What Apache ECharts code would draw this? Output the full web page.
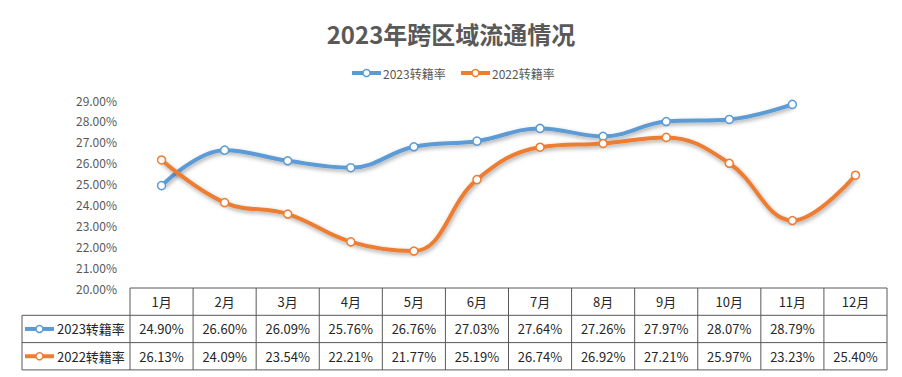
<!DOCTYPE html>
<html>
<head>
<meta charset="utf-8">
<script src="https://cdn.jsdelivr.net/npm/echarts@6/dist/echarts.min.js"></script>
<style>
  html, body { margin: 0; padding: 0; background: #fff; }
  #chart { width: 902px; height: 377px; }
</style>
</head>
<body>
<div id="chart"></div>
<script>
    var months = ['1月', '2月', '3月', '4月', '5月', '6月', '7月', '8月', '9月', '10月', '11月', '12月'];
    var rate2023 = [24.90, 26.60, 26.09, 25.76, 26.76, 27.03, 27.64, 27.26, 27.97, 28.07, 28.79, null];
    var rate2022 = [26.13, 24.09, 23.54, 22.21, 21.77, 25.19, 26.74, 26.92, 27.21, 25.97, 23.23, 25.40];
    var seriesNames = ['2023转籍率', '2022转籍率'];
    var seriesColors = ['#5B9BD5', '#ED7D31'];

    var font = '"Noto Sans CJK SC", "Noto Sans", sans-serif';
    var gridLeft = 130, gridRight = 15, gridTop = 100, gridBottom = 89;
    var tableTop = 288, rowH = 27.3, labelLeft = 22;

    var chart = echarts.init(document.getElementById('chart'), null, { renderer: 'svg' });

    function lineSeries(name, data, color) {
        return {
            name: name,
            type: 'line',
            data: data,
            smooth: 0.4,
            symbol: 'circle',
            symbolSize: 8,
            showSymbol: true,
            lineStyle: {
                color: color,
                width: 4,
                shadowColor: 'rgba(0, 0, 0, 0.35)',
                shadowBlur: 4,
                shadowOffsetX: 1,
                shadowOffsetY: 2
            },
            itemStyle: {
                color: '#fff',
                borderColor: color,
                borderWidth: 1.5
            }
        };
    }

    chart.setOption({
        animation: false,
        title: {
            text: '2023年跨区域流通情况',
            left: 'center',
            top: 16,
            textStyle: { fontFamily: font, fontSize: 24, fontWeight: 'bold', color: '#595959' }
        },
        legend: { show: false, data: seriesNames },
        grid: { left: gridLeft, right: gridRight, top: gridTop, bottom: gridBottom },
        xAxis: {
            type: 'category',
            data: months,
            boundaryGap: true,
            axisLine: { show: false },
            axisTick: { show: false },
            axisLabel: { show: false }
        },
        yAxis: {
            type: 'value',
            min: 20,
            max: 29,
            interval: 1,
            axisLine: { show: false },
            axisTick: { show: false },
            splitLine: { show: false },
            axisLabel: {
                margin: 13,
                fontFamily: font,
                fontSize: 12,
                color: '#595959',
                formatter: function (v) { return v.toFixed(2) + '%'; }
            }
        },
        series: [
            lineSeries(seriesNames[0], rate2023, seriesColors[0]),
            lineSeries(seriesNames[1], rate2022, seriesColors[1])
        ]
    });

    // line + circle key, used by the legend and the table row labels
    function keyIcon(els, x, y, color) {
        els.push({ type: 'line', shape: { x1: x, y1: y, x2: x + 29, y2: y }, style: { stroke: color, lineWidth: 4 }, silent: true });
        els.push({ type: 'circle', shape: { cx: x + 14.5, cy: y, r: 3.5 }, style: { fill: '#fff', stroke: color, lineWidth: 1.5 }, silent: true });
    }

    // data table under the plot, aligned with the category axis
    function drawTable() {
        var c0 = chart.convertToPixel({ xAxisIndex: 0 }, 0);
        var c1 = chart.convertToPixel({ xAxisIndex: 0 }, 1);
        var colW = c1 - c0;
        var left = c0 - colW / 2;
        var right = left + colW * months.length;
        var lineStyle = { stroke: '#595959', lineWidth: 1 };
        var els = [];
        var y0 = tableTop, y1 = tableTop + rowH, y2 = tableTop + 2 * rowH, y3 = tableTop + 3 * rowH;

        function hline(x1, x2, y) {
            els.push({ type: 'line', shape: { x1: x1, y1: y, x2: x2, y2: y }, style: lineStyle, silent: true });
        }
        function vline(x, ya, yb) {
            els.push({ type: 'line', shape: { x1: x, y1: ya, x2: x, y2: yb }, style: lineStyle, silent: true });
        }
        function cellText(txt, x, y, align, size, color) {
            els.push({
                type: 'text', x: x, y: y, silent: true,
                style: { text: txt, fill: color || '#262626', font: (size || 13) + 'px ' + font, textAlign: align || 'center', textVerticalAlign: 'middle' }
            });
        }

        hline(left, right, y0);
        hline(labelLeft, right, y1);
        hline(labelLeft, right, y2);
        hline(labelLeft, right, y3);
        vline(labelLeft, y1, y3);
        for (var i = 0; i <= months.length; i++) {
            vline(left + colW * i, y0, y3);
        }

        var rows = [rate2023, rate2022];
        for (var i = 0; i < months.length; i++) {
            var cx = chart.convertToPixel({ xAxisIndex: 0 }, i);
            cellText(months[i], cx, (y0 + y1) / 2);
            rows.forEach(function (r, k) {
                if (r[i] != null) {
                    cellText(r[i].toFixed(2) + '%', cx, tableTop + rowH * (k + 1.5));
                }
            });
        }

        rows.forEach(function (r, k) {
            var cy = tableTop + rowH * (k + 1.5);
            keyIcon(els, 25, cy, seriesColors[k]);
            cellText(seriesNames[k], 57, cy, 'left');
        });

        // legend at the top
        var legendX = [352, 461];
        seriesNames.forEach(function (n, k) {
            keyIcon(els, legendX[k], 73, seriesColors[k]);
            cellText(n, legendX[k] + 31, 73, 'left', 12, '#595959');
        });

        chart.setOption({ graphic: { elements: els } });
    }

    drawTable();
</script>
</body>
</html>
